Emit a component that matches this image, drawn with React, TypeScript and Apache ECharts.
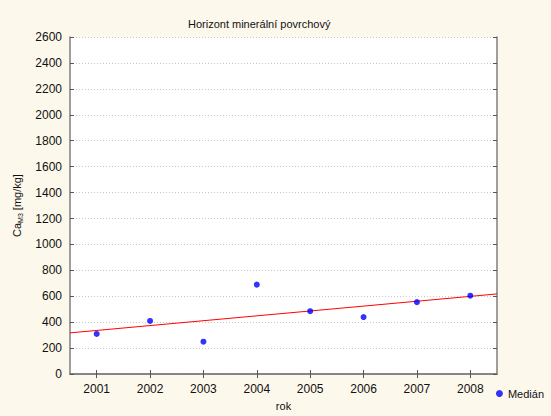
import React, { useEffect, useRef } from "react";
import * as echarts from "echarts";

const years = [2001, 2002, 2003, 2004, 2005, 2006, 2007, 2008];
const medians = [310, 410, 250, 690, 485, 440, 555, 605];
const yTicks = [0, 200, 400, 600, 800, 1000, 1200, 1400, 1600, 1800, 2000, 2200, 2400, 2600];

function fit(xs: number[], ys: number[]) {
  const n = xs.length;
  const mx = xs.reduce((a, b) => a + b, 0) / n;
  const my = ys.reduce((a, b) => a + b, 0) / n;
  let sxy = 0, sxx = 0;
  for (let i = 0; i < n; i++) {
    sxy += (xs[i] - mx) * (ys[i] - my);
    sxx += (xs[i] - mx) * (xs[i] - mx);
  }
  const b = sxy / sxx;
  return (x: number) => my + b * (x - mx);
}

export default function App() {
  const ref = useRef<HTMLDivElement>(null);
  useEffect(() => {
    if (!ref.current) return;
    const chart = echarts.init(ref.current, null, { renderer: "svg" });
    const f = fit(years, medians);
    const xMin = years[0] - 0.5;
    const xMax = years[years.length - 1] + 0.5;
    const font = "Liberation Sans, Arial, sans-serif";
    const axisLine = { show: true, lineStyle: { color: "#7f7f7f", width: 1.5 } };
    const tick = { show: true, inside: true, length: 4, lineStyle: { color: "#555" } };
    const plain = (v: number) => String(v);
    chart.setOption({
      animation: false,
      backgroundColor: "#fdf8ec",
      textStyle: { fontFamily: font },
      title: {
        text: "Horizont minerální povrchový",
        left: 183,
        top: 13,
        textStyle: { fontSize: 11, fontWeight: "normal", color: "#111", fontFamily: font },
      },
      legend: {
        right: 2,
        bottom: 12,
        data: [{ name: "Medián", icon: "circle" }],
        itemWidth: 7,
        itemHeight: 7,
        itemGap: 4,
        textStyle: { fontSize: 11, color: "#111", fontFamily: font },
      },
      grid: {
        left: 70,
        right: 54,
        top: 37,
        bottom: 38,
        show: true,
        backgroundColor: "#ffffff",
        borderWidth: 0,
      },
      xAxis: [
        {
          type: "value",
          min: xMin,
          max: xMax,
          name: "rok",
          nameLocation: "middle",
          nameGap: 24,
          nameTextStyle: { fontSize: 11, color: "#111", fontFamily: font },
          axisLine,
          axisTick: { ...tick, customValues: years },
          axisLabel: { customValues: years, formatter: plain, fontSize: 12, color: "#111", margin: 9, fontFamily: font },
          splitLine: { show: false },
        },
        {
          type: "value",
          position: "top",
          min: xMin,
          max: xMax,
          axisLine,
          axisTick: { ...tick, customValues: years },
          axisLabel: { show: false, customValues: years },
          splitLine: { show: false },
        },
      ],
      yAxis: [
        {
          type: "value",
          min: yTicks[0],
          max: yTicks[yTicks.length - 1],
          interval: 200,
          name: "{a|Ca}{b|M3}{a| [mg/kg]}",
          nameLocation: "middle",
          nameGap: 46,
          nameRotate: 90,
          nameTextStyle: {
            color: "#111",
            rich: {
              a: { fontSize: 11, color: "#111", fontFamily: font, lineHeight: 14 },
              b: { fontSize: 7, color: "#111", fontFamily: font, verticalAlign: "bottom", lineHeight: 10 },
            },
          },
          axisLine,
          axisTick: tick,
          axisLabel: { formatter: plain, fontSize: 12, color: "#111", margin: 8, fontFamily: font },
          splitLine: { show: true, lineStyle: { color: "#c8c8c8", type: [1, 2], width: 1 } },
        },
        {
          type: "value",
          position: "right",
          min: yTicks[0],
          max: yTicks[yTicks.length - 1],
          interval: 200,
          axisLine,
          axisTick: tick,
          axisLabel: { show: false },
          splitLine: { show: false },
        },
      ],
      series: [
        {
          name: "fit",
          type: "line",
          data: [[xMin, f(xMin)], [xMax, f(xMax)]],
          symbol: "none",
          lineStyle: { color: "#ff0000", width: 1 },
          itemStyle: { color: "#ff0000" },
          z: 2,
        },
        {
          name: "Medián",
          type: "scatter",
          data: years.map((y, i) => [y, medians[i]]),
          symbol: "circle",
          symbolSize: 6,
          itemStyle: { color: "#0000ff" },
          z: 3,
        },
      ],
    });
    return () => chart.dispose();
  }, []);
  return <div ref={ref} style={{ position: "fixed", left: 0, top: 0, width: 551, height: 416 }} />;
}
